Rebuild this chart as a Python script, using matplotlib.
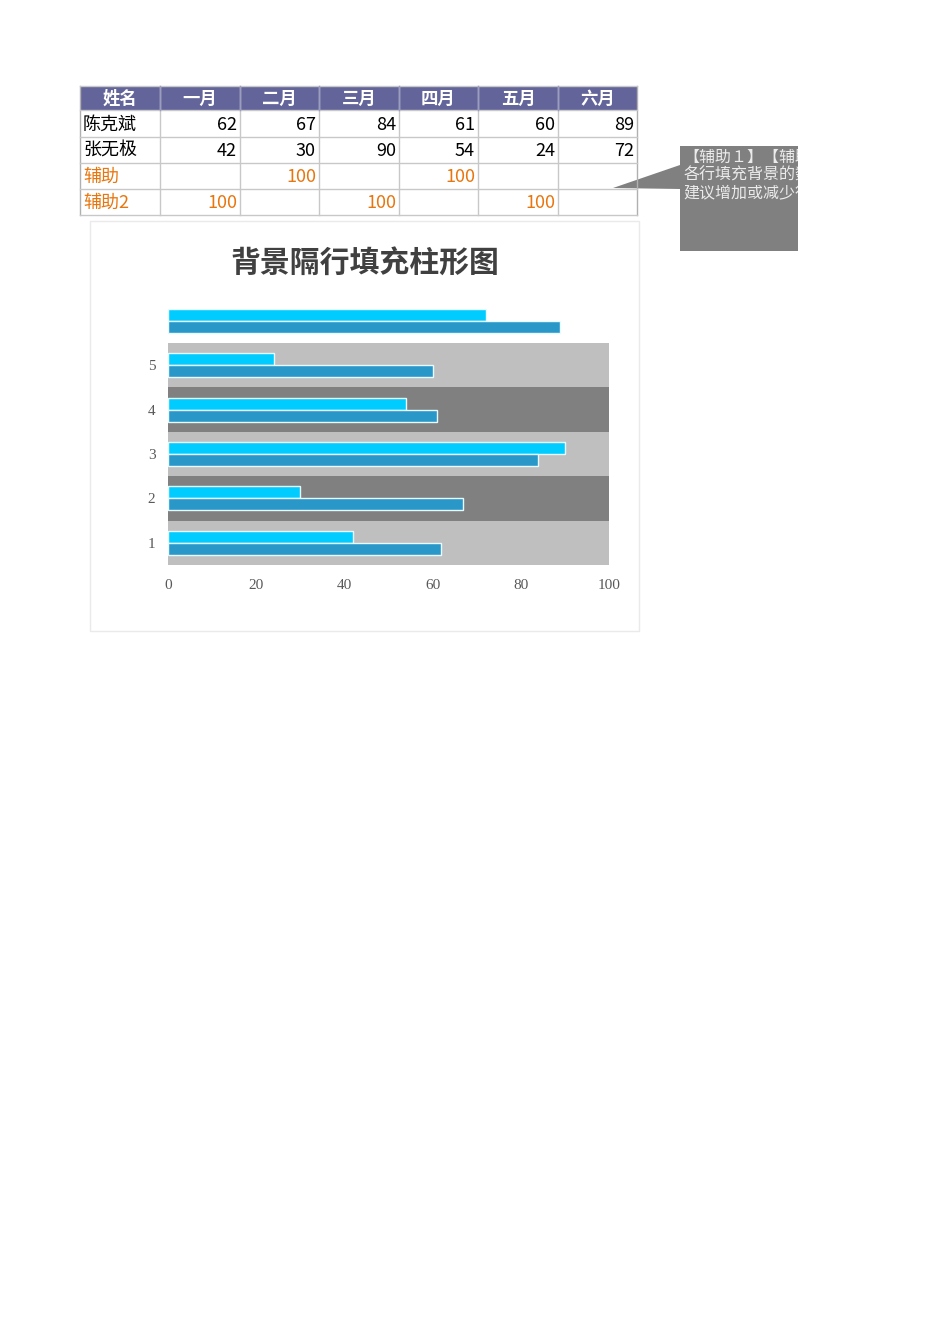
import matplotlib.pyplot as plt
import matplotlib.patches as patches
import numpy as np

plt.rcParams['font.family'] = ['Noto Sans CJK SC', 'DejaVu Sans']

# Tabellendaten
header = ['姓名', '一月', '二月', '三月', '四月', '五月', '六月']
row_names = ['陈克斌', '张无极', '辅助', '辅助2']
chen = [62, 67, 84, 61, 60, 89]
zhang = [42, 30, 90, 54, 24, 72]
aux1 = [None, 100, None, 100, None, None]
aux2 = [100, None, 100, None, 100, None]
categories = [1, 2, 3, 4, 5, 6]
tick_labels = ['1', '2', '3', '4', '5', '']

W, H = 950, 1344
fig = plt.figure(figsize=(W / 100, H / 100), dpi=100)

# Hintergrund-Achse in Pixelkoordinaten
bg = fig.add_axes([0, 0, 1, 1])
bg.set_xlim(0, W)
bg.set_ylim(H, 0)
bg.axis('off')

col_x = [80, 160, 240, 319, 399, 478, 558, 637]
row_y = [86, 110, 137, 163, 189, 215]
grid_col = '#C8C8C8'
orange = '#E8760F'

# Kopfzeile
bg.add_patch(patches.Rectangle((col_x[0], row_y[0]), col_x[-1] - col_x[0], row_y[1] - row_y[0],
                               facecolor='#63659A', edgecolor='none'))
for i, h in enumerate(header):
    bg.text((col_x[i] + col_x[i + 1]) / 2, (row_y[0] + row_y[1]) / 2 + 1, h, color='white',
            fontsize=12.5, fontweight='bold', ha='center', va='center')

table_rows = [chen, zhang, aux1, aux2]
for r, (name, vals) in enumerate(zip(row_names, table_rows)):
    yc = (row_y[r + 1] + row_y[r + 2]) / 2 + 1
    color = 'black' if r < 2 else orange
    bg.text(col_x[0] + 3, yc, name, color=color, fontsize=13, ha='left', va='center')
    for c, v in enumerate(vals):
        if v is not None:
            bg.text(col_x[c + 2] - 3, yc, str(v), color=color, fontsize=13, ha='right', va='center')

# Gitterlinien
for x in col_x:
    bg.plot([x, x], [row_y[0], row_y[-1]], color=grid_col if x not in (col_x[0], col_x[-1]) else '#B0B0B0', lw=1)
for y in row_y:
    bg.plot([col_x[0], col_x[-1]], [y, y], color=grid_col, lw=1)
for x in col_x[1:-1]:
    bg.plot([x, x], [row_y[0], row_y[1]], color='#9A9CC0', lw=1)

# Kommentarfeld
bg.add_patch(patches.Polygon([(613, 188), (680, 165), (680, 189)], closed=True,
                             facecolor='#808080', edgecolor='none'))
note_ax = fig.add_axes([680 / W, 1 - 251 / H, 118 / W, 105 / H])
note_ax.set_xlim(0, 1)
note_ax.set_ylim(0, 1)
note_ax.set_facecolor('#808080')
for s in note_ax.spines.values():
    s.set_visible(False)
note_ax.set_xticks([])
note_ax.set_yticks([])
note_lines = ['【辅助１】【辅助２】为', '各行填充背景的数据，', '建议增加或减少行时同步修改']
for i, line in enumerate(note_lines):
    note_ax.text(0.03, 0.97 - i * 0.17, line, color='#EBEBEB', fontsize=11.5, ha='left', va='top',
                 clip_on=True)

# Diagrammrahmen
bg.add_patch(patches.Rectangle((90, 221), 549, 410, facecolor='white', edgecolor='#EAEAEA', lw=1))
bg.text(365, 263, '背景隔行填充柱形图', fontsize=21.5, fontweight='bold', color='#404040',
        ha='center', va='center')

# Diagramm
ax = fig.add_axes([168 / W, 1 - 565 / H, 441 / W, 266.5 / H])
cats = np.array(categories)
bh = 0.27
light = [v if v is not None else 0 for v in aux2]
dark = [v if v is not None else 0 for v in aux1]
ax.barh(cats, light, height=1.0, color='#BFBFBF', edgecolor='none', zorder=1)
ax.barh(cats, dark, height=1.0, color='#808080', edgecolor='none', zorder=1)
ax.barh(cats + bh / 2, zhang, height=bh, color='#00CCFF', edgecolor='#E8FAFF', lw=1, zorder=3)
ax.barh(cats - bh / 2, chen, height=bh, color='#2998C9', edgecolor='#E8FAFF', lw=1, zorder=3)

ax.set_xlim(0, 100)
ax.set_ylim(0.5, 6.5)
ax.set_xticks([0, 20, 40, 60, 80, 100])
ax.set_yticks(categories)
ax.set_yticklabels(tick_labels)
for s in ax.spines.values():
    s.set_visible(False)
ax.tick_params(length=0, labelsize=11, labelcolor='#595959')
ax.tick_params(axis='x', pad=10)
ax.tick_params(axis='y', pad=9)
for lab in ax.get_xticklabels() + ax.get_yticklabels():
    lab.set_family('Liberation Serif')

fig.savefig('out.png', dpi=100)
